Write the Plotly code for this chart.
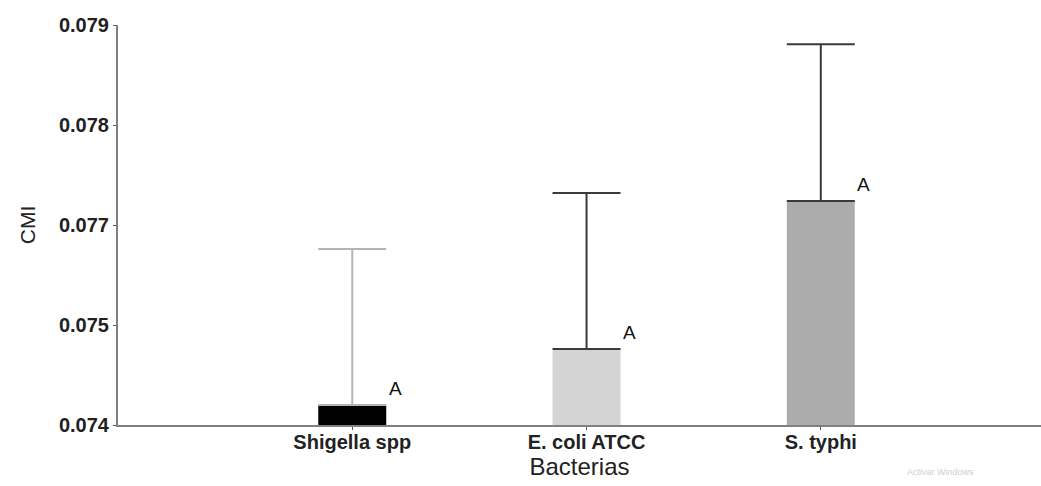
import plotly.graph_objects as go

categories = ["Shigella spp", "E. coli ATCC", "S. typhi"]
means = [0.07425, 0.07495, 0.0768]
err_plus = [0.00195, 0.00195, 0.00196]
bar_colors = ["#000000", "#d4d4d4", "#acacac"]
err_colors = ["#b4b4b4", "#3a3a3a", "#3a3a3a"]
letters = ["A", "A", "A"]
ytick_vals = [0.074, 0.07525, 0.0765, 0.07775, 0.079]
ytick_text = ["0.074", "0.075", "0.077", "0.078", "0.079"]

fig = go.Figure()
for i, c in enumerate(categories):
    fig.add_trace(go.Bar(
        x=[c], y=[means[i]], width=0.29,
        marker=dict(color=bar_colors[i], line=dict(width=0)),
        error_y=dict(type="data", symmetric=False, array=[err_plus[i]], arrayminus=[0],
                     color=err_colors[i], thickness=2, width=34),
        showlegend=False,
    ))
    fig.add_annotation(x=i, y=means[i], text=letters[i], showarrow=False,
                       xshift=43, yshift=17, font=dict(family="Liberation Sans", size=19, color="#111"))

fig.add_annotation(x=0.93, y=-0.135, xref="paper", yref="paper", text="Activar Windows",
                   showarrow=False, font=dict(family="Liberation Sans", size=9, color="#cfcfcf"))

fig.update_layout(
    width=1041, height=486,
    margin=dict(l=118, r=0, t=25, b=61),
    paper_bgcolor="white", plot_bgcolor="white",
    barmode="overlay",
    font=dict(family="Liberation Sans", color="#222"),
    xaxis=dict(
        type="category", categoryorder="array", categoryarray=categories,
        range=[-1, 2.94],
        tickvals=categories, ticktext=["<b>" + c + "</b>" for c in categories],
        tickfont=dict(family="Liberation Sans", size=20, color="#222"),
        ticklabelstandoff=-5,
        showline=True, linecolor="#808080", linewidth=2,
        ticks="outside", ticklen=3, tickcolor="#555", tickwidth=1,
        showgrid=False, zeroline=False,
        title=dict(text="Bacterias", font=dict(family="Liberation Sans", size=24, color="#222"), standoff=5),
    ),
    yaxis=dict(
        range=[0.074, 0.079],
        tickvals=ytick_vals, ticktext=["<b>" + t + "</b>" for t in ytick_text],
        tickfont=dict(family="Liberation Sans", size=20, color="#222"),
        showline=True, linecolor="#808080", linewidth=2,
        ticks="outside", ticklen=3, tickcolor="#555", tickwidth=1,
        showgrid=False, zeroline=False,
        title=dict(text="CMI", font=dict(family="Liberation Sans", size=21, color="#222"), standoff=18),
    ),
)

fig.write_html("out.html")
